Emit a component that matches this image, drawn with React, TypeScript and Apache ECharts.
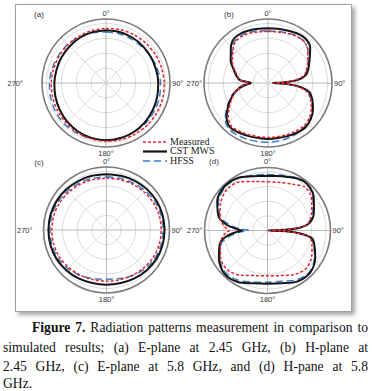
import React, { useEffect, useRef } from 'react';
import * as echarts from 'echarts';

// ---------------- data ----------------
const seriesNames = ['Measured', 'CST MWS', 'HFSS'];
const tickAngles = [0, 90, 180, 270];
const tickLabels = ['0°', '90°', '180°', '270°'];
const panelLabels = ['(a)', '(b)', '(c)', '(d)'];

// (a) E-plane 2.45 GHz, (c) E-plane 5.8 GHz : angle (deg) / gain (dB)
const anglesAC = [0, 15, 30, 45, 60, 75, 90, 105, 120, 135, 150, 165, 180, 195, 210, 225, 240, 255, 270, 285, 300, 315, 330, 345];
const aMeasured = [-3.3, -2.9, -2.5, -2.1, -1.7, -1.3, -0.9, -0.6, -0.5, -0.4, -0.5, -0.6, -0.9, -1.2, -1.6, -2.1, -2.5, -2.9, -3.2, -3.5, -3.7, -3.7, -3.7, -3.5];
const aCst = [-4.5, -4.5, -4.7, -5.0, -5.2, -5.2, -4.9, -4.4, -3.7, -2.9, -2.2, -1.7, -1.5, -1.8, -2.4, -3.2, -4.1, -4.8, -5.3, -5.6, -5.5, -5.3, -4.9, -4.6];
const aHfss = [-5.7, -5.8, -5.9, -5.7, -5.0, -4.2, -3.4, -2.8, -2.4, -2.1, -2.0, -2.0, -1.9, -1.5, -1.0, -0.8, -1.0, -1.5, -2.0, -2.6, -3.1, -3.5, -4.3, -5.1];

const cMeasured = [-4.6, -4.4, -4.0, -3.5, -3.0, -2.7, -2.7, -2.7, -3.0, -3.7, -4.4, -4.9, -5.1, -4.9, -4.4, -3.7, -3.0, -2.7, -2.7, -2.7, -3.0, -3.5, -4.0, -4.4];
const cCst = [-1.9, -1.7, -1.3, -0.8, -0.5, -0.4, -0.4, -0.4, -0.6, -1.2, -1.8, -2.5, -2.7, -2.5, -1.8, -1.2, -0.6, -0.4, -0.4, -0.4, -0.6, -1.0, -1.4, -1.7];
const cHfss = [-3.7, -3.5, -3.0, -2.4, -1.7, -1.4, -1.4, -1.5, -1.7, -2.8, -4.1, -5.7, -6.4, -5.7, -4.1, -2.8, -1.7, -1.5, -1.4, -1.4, -1.7, -2.4, -3.0, -3.5];

// (b) H-plane 2.45 GHz
const anglesB = [0, 10, 20, 30, 40, 50, 60, 70, 78, 84, 88, 90, 92, 96, 102, 110, 120, 130, 140, 150, 160, 170, 180, 190, 200, 210, 220, 230, 240, 250, 258, 264, 270, 276, 282, 290, 300, 310, 320, 330, 340, 350];
const bMeasured = [-5.4, -5.1, -4.4, -3.4, -3.0, -5.1, -9.1, -12.4, -15.1, -21.2, -30.6, -36.6, -30.6, -21.2, -13.8, -9.8, -6.4, -3.7, -2.4, -2.7, -3.0, -3.4, -3.4, -3.4, -3.0, -2.4, -2.0, -5.1, -10.4, -15.1, -19.2, -23.2, -27.2, -21.2, -19.2, -16.5, -12.4, -9.1, -5.1, -4.1, -4.4, -5.1];
const bCst = [-3.2, -3.0, -2.4, -1.4, -1.0, -3.0, -7.7, -11.1, -13.8, -19.8, -29.9, -36.6, -29.9, -19.8, -11.8, -8.4, -5.1, -2.4, -1.0, -1.4, -2.0, -2.4, -2.4, -2.4, -2.0, -1.4, -0.8, -3.7, -9.1, -14.5, -19.2, -23.9, -28.6, -21.2, -18.5, -15.8, -11.1, -7.3, -3.0, -2.0, -2.4, -3.0];
const bHfss = [-5.1, -4.7, -4.1, -3.0, -3.0, -5.1, -8.8, -12.1, -14.8, -20.5, -29.9, -36.0, -29.9, -20.5, -13.1, -9.1, -5.7, -3.0, -1.7, -1.0, -0.7, -0.4, -0.2, 0.0, 0.3, 0.6, 0.6, -2.4, -8.4, -13.8, -18.5, -21.9, -25.9, -20.5, -18.5, -15.8, -11.8, -8.4, -4.4, -3.4, -3.7, -4.4];

// (d) H-plane 5.8 GHz
const anglesD = [0, 15, 30, 40, 50, 60, 70, 80, 85, 88, 90, 92, 95, 100, 110, 120, 135, 150, 165, 180, 195, 210, 225, 240, 255, 262, 267, 270, 273, 278, 285, 300, 315, 330, 345];
const dMeasured = [-6.7, -6.1, -3.7, -1.0, -1.7, -5.1, -8.1, -11.8, -18.5, -29.9, -38.7, -29.9, -18.5, -10.4, -7.7, -5.1, -3.0, -5.1, -8.1, -9.1, -8.1, -4.7, -1.7, -3.0, -6.7, -9.1, -11.8, -13.8, -11.8, -9.1, -6.4, -3.0, -0.7, -1.7, -5.4];
const dCst = [-2.7, -1.7, 1.0, 1.7, 0.3, -3.4, -6.4, -11.1, -17.8, -29.9, -39.3, -29.9, -18.5, -9.1, -5.7, -2.4, 1.0, 0.3, -2.7, -3.7, -2.7, 0.6, 1.7, -1.7, -6.4, -11.8, -18.5, -22.5, -18.5, -11.8, -5.7, -0.4, 2.0, 1.3, -1.7];
const dHfss = [-1.7, -1.0, 1.3, 1.7, -0.4, -4.1, -7.1, -11.8, -17.8, -29.9, -38.7, -29.9, -17.8, -9.8, -6.4, -3.0, 0.3, -1.0, -4.1, -4.7, -3.7, -0.7, 0.6, -2.4, -7.7, -14.5, -21.9, -27.2, -21.9, -14.5, -7.1, -1.4, 1.3, 1.0, -1.0];

const captionLines = [
  'Figure 7. Radiation patterns measurement in comparison to',
  'simulated results; (a) E-plane at 2.45 GHz, (b) H-plane at',
  '2.45 GHz, (c) E-plane at 5.8 GHz, and (d) H-pane at 5.8',
  'GHz.',
];

// ---------------- layout / style ----------------
const W = 372;
const H = 391;
const centers = [[106, 83], [268, 83], [106.5, 230], [267.5, 230.5]];
const radii = [64, 64, 63, 63];
const panelLabelPos = [[39, 14], [229, 14], [39, 162], [214, 161]];
const leftLabelPad = [17, 0, 9, 0];

const panels = [
  { angles: anglesAC, measured: aMeasured, cst: aCst, hfss: aHfss },
  { angles: anglesB, measured: bMeasured, cst: bCst, hfss: bHfss },
  { angles: anglesAC, measured: cMeasured, cst: cCst, hfss: cHfss },
  { angles: anglesD, measured: dMeasured, cst: dCst, hfss: dHfss },
];

const lineStyles: Record<string, any> = {
  Measured: { color: '#e8232b', type: [3, 2], width: 1.5 },
  'CST MWS': { color: '#141414', type: 'solid', width: 2 },
  HFSS: { color: '#3b7cc8', type: [7, 4], width: 1.5 },
};

const SERIF = '"Liberation Serif", "Times New Roman", serif';
const SANS = '"Liberation Sans", Arial, sans-serif';

function toData(angles: number[], vals: number[]) {
  const d = angles.map((a, i) => [vals[i], a]);
  d.push([vals[0], 360]);
  return d;
}

function captionElements() {
  const size = 13.6;
  const ctx = document.createElement('canvas').getContext('2d') as CanvasRenderingContext2D;
  const measure = (t: string, bold: boolean) => {
    ctx.font = `${bold ? 'bold ' : ''}${size}px ${SERIF}`;
    return ctx.measureText(t).width;
  };
  const specs = [
    { x0: 32, x1: 368, y: 327.5, justify: true, bold: 2 },
    { x0: 3, x1: 368, y: 347, justify: true, bold: 0 },
    { x0: 3, x1: 368, y: 366, justify: true, bold: 0 },
    { x0: 3, x1: 368, y: 383.5, justify: false, bold: 0 },
  ];
  const els: any[] = [];
  captionLines.forEach((line, li) => {
    const s = specs[li];
    const words = line.split(' ');
    const widths = words.map((w, wi) => measure(w, wi < s.bold));
    const total = widths.reduce((a, b) => a + b, 0);
    let gap = measure(' ', false);
    if (s.justify && words.length > 1) gap = Math.max(2.5, (s.x1 - s.x0 - total) / (words.length - 1));
    let x = s.x0;
    words.forEach((w, wi) => {
      els.push({
        type: 'text',
        x,
        y: s.y,
        silent: true,
        style: {
          text: w,
          fontFamily: SERIF,
          fontSize: size,
          fontWeight: wi < s.bold ? 'bold' : 'normal',
          fill: '#111',
          align: 'left',
          verticalAlign: 'middle',
          textAlign: 'left',
          textVerticalAlign: 'middle',
        },
      });
      x += widths[wi] + gap;
    });
  });
  return els;
}

export default function App() {
  const ref = useRef<HTMLDivElement>(null);

  useEffect(() => {
    if (!ref.current) return;
    const chart = echarts.init(ref.current, undefined, { renderer: 'svg', width: W, height: H });

    const series: any[] = [];
    panels.forEach((p, i) => {
      const order: [string, number[]][] = [
        ['HFSS', p.hfss],
        ['CST MWS', p.cst],
        ['Measured', p.measured],
      ];
      order.forEach(([name, vals], k) => {
        const ls = lineStyles[name];
        series.push({
          type: 'line',
          name,
          coordinateSystem: 'polar',
          polarIndex: i,
          data: toData(p.angles, vals),
          symbol: 'none',
          showSymbol: false,
          smooth: 0.3,
          silent: true,
          z: 3 + k,
          itemStyle: { color: ls.color },
          lineStyle: { color: ls.color, type: ls.type, width: ls.width },
        });
      });
    });

    const legendEls: any[] = [];
    const legendRows = [141, 150.5, 160];
    seriesNames.forEach((name, i) => {
      const ls = lineStyles[name];
      legendEls.push({
        type: 'line',
        silent: true,
        z: 10,
        shape: { x1: 143, y1: legendRows[i] + 1, x2: 167, y2: legendRows[i] + 1 },
        style: {
          stroke: ls.color,
          lineWidth: name === 'CST MWS' ? 2.2 : 1.5,
          lineDash: Array.isArray(ls.type) ? ls.type : null,
        },
      });
      legendEls.push({
        type: 'text',
        x: 170,
        y: legendRows[i],
        silent: true,
        z: 10,
        style: {
          text: name,
          fontFamily: SERIF,
          fontSize: 10,
          fill: '#222',
          align: 'left',
          verticalAlign: 'middle',
          textAlign: 'left',
          textVerticalAlign: 'middle',
        },
      });
    });

    const panelLabelEls = panelLabels.map((t, i) => ({
      type: 'text',
      x: panelLabelPos[i][0],
      y: panelLabelPos[i][1],
      silent: true,
      style: {
        text: t,
        fontFamily: SANS,
        fontSize: 8,
        fill: '#333',
        align: 'center',
        verticalAlign: 'middle',
        textAlign: 'center',
        textVerticalAlign: 'middle',
      },
    }));

    const option: any = {
      animation: false,
      backgroundColor: '#ffffff',
      polar: centers.map((c, i) => ({ center: c, radius: radii[i] })),
      angleAxis: centers.map((c, i) => ({
        polarIndex: i,
        type: 'value',
        min: 0,
        max: 360,
        interval: 45,
        startAngle: 90,
        clockwise: true,
        axisLine: { show: true, lineStyle: { color: '#7c7c7c', width: 1.6 } },
        axisTick: { show: false },
        splitLine: { show: true, lineStyle: { color: ['#a8a8a8', '#d6d6d6'], width: 0.8 } },
        axisLabel: {
          show: true,
          margin: 2,
          fontSize: 7.5,
          lineHeight: 8,
          fontFamily: SANS,
          color: '#333',
          formatter: (v: number) => {
            const idx = tickAngles.indexOf(Math.round(v));
            if (idx < 0) return '';
            if (tickAngles[idx] === 270 && leftLabelPad[i] > 0) return '{far|' + tickLabels[idx] + '}';
            return tickLabels[idx];
          },
          rich: {
            far: { padding: [0, leftLabelPad[i], 0, 0], fontSize: 7.5, lineHeight: 8, fontFamily: SANS, color: '#333' },
          },
        },
      })),
      radiusAxis: centers.map((c, i) => ({
        polarIndex: i,
        type: 'value',
        min: -40,
        max: 3,
        interval: 10,
        axisLine: { show: false },
        axisTick: { show: false },
        axisLabel: { show: false },
        splitLine: { show: true, lineStyle: { color: '#d2d2d2', width: 0.8 } },
      })),
      graphic: {
        elements: [
          {
            type: 'rect',
            z: -10,
            silent: true,
            shape: { x: 15.5, y: 4.5, width: 336, height: 307 },
            style: {
              fill: '#ffffff',
              stroke: '#a0a0a0',
              lineWidth: 1,
              shadowBlur: 4,
              shadowOffsetX: 3,
              shadowOffsetY: 3,
              shadowColor: 'rgba(0,0,0,0.35)',
            },
          },
          ...panelLabelEls,
          ...legendEls,
          ...captionElements(),
        ],
      },
      series,
    };

    chart.setOption(option);
    return () => chart.dispose();
  }, []);

  return (
    <div
      ref={ref}
      style={{ position: 'fixed', left: 0, top: 0, width: W, height: H, background: '#fff' }}
    />
  );
}
